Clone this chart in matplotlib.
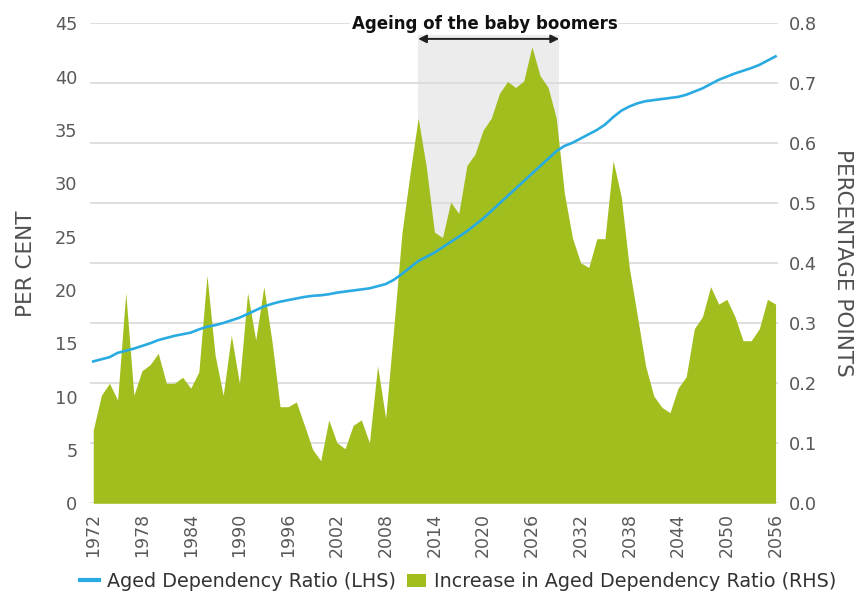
import matplotlib
matplotlib.use("Agg")
import matplotlib.pyplot as plt
from matplotlib.lines import Line2D
from matplotlib.patches import Patch
import numpy as np

years = list(range(1972, 2057))

aged_dependency_ratio = [
    13.3, 13.5, 13.7, 14.1, 14.3, 14.5, 14.75, 15.0, 15.3, 15.5,
    15.7, 15.85, 16.0, 16.3, 16.55, 16.7, 16.9, 17.15, 17.4, 17.75,
    18.1, 18.45, 18.7, 18.9, 19.05, 19.2, 19.35, 19.45, 19.5, 19.6,
    19.75, 19.85, 19.95, 20.05, 20.15, 20.35, 20.55, 20.95, 21.5, 22.1,
    22.7, 23.1, 23.5, 24.0, 24.5, 25.0, 25.5, 26.1, 26.7, 27.4,
    28.1, 28.8, 29.5, 30.2, 30.9, 31.6, 32.3, 33.0, 33.5, 33.8,
    34.2, 34.6, 35.0, 35.5, 36.2, 36.8, 37.2, 37.5, 37.7, 37.8,
    37.9, 38.0, 38.1, 38.3, 38.6, 38.9, 39.3, 39.7, 40.0, 40.3,
    40.55, 40.8, 41.1, 41.5, 41.9,
]

increase_in_ratio = [
    0.122, 0.180, 0.200, 0.172, 0.351, 0.180, 0.221, 0.231, 0.250, 0.200,
    0.200, 0.210, 0.192, 0.219, 0.380, 0.247, 0.180, 0.280, 0.200, 0.351,
    0.272, 0.361, 0.270, 0.161, 0.161, 0.169, 0.130, 0.090, 0.071, 0.139,
    0.101, 0.091, 0.130, 0.139, 0.101, 0.229, 0.142, 0.293, 0.450, 0.550,
    0.642, 0.561, 0.452, 0.443, 0.502, 0.483, 0.563, 0.582, 0.622, 0.642,
    0.683, 0.703, 0.693, 0.704, 0.761, 0.713, 0.693, 0.642, 0.517, 0.442,
    0.401, 0.393, 0.441, 0.441, 0.571, 0.511, 0.392, 0.311, 0.229, 0.179,
    0.160, 0.151, 0.192, 0.211, 0.291, 0.311, 0.361, 0.332, 0.340, 0.311,
    0.271, 0.271, 0.291, 0.340, 0.332,
]

x_tick_years = list(range(1972, 2057, 6))
left_ticks = list(range(0, 50, 5))
right_ticks = [round(0.1 * i, 1) for i in range(9)]
shade_start, shade_end = 2012, 2029.35
annotation_text = "Ageing of the baby boomers"

GREEN = "#A1BE1F"
BLUE = "#29ABE2"
GRAY_TXT = "#595959"

fig = plt.figure(figsize=(8.56, 6.01), dpi=100)
ax = fig.add_axes([90 / 856, (601 - 503.3) / 601, 688 / 856, 480 / 601])
ax2 = ax.twinx()

# area on primary axes (right scale)
ax.axvspan(shade_start, shade_end, ymin=0, ymax=1, color="#ECECEC", zorder=0.2, lw=0)
ax.fill_between(years, increase_in_ratio, 0, color=GREEN, lw=0, zorder=2)
ax.set_ylim(0, 0.8)
ax.set_xlim(1971.6, 2056.3)
ax.set_yticks(right_ticks)
ax.set_yticklabels([f"{t:.1f}" for t in right_ticks])
ax.yaxis.tick_right()
ax.yaxis.set_label_position("right")
ax.set_axisbelow(True)
ax.grid(axis="y", color="#DCDCDC", lw=1.3)
ax.grid(axis="x", visible=False)
ax.set_xticks(x_tick_years)
ax.set_xticklabels([str(y) for y in x_tick_years], rotation=90)
ax.tick_params(axis="x", length=0, pad=7, labelsize=12.5, labelcolor=GRAY_TXT)
ax.tick_params(axis="y", length=0, pad=8, labelsize=12.8, labelcolor=GRAY_TXT)
for s in ax.spines.values():
    s.set_visible(False)
ax.set_ylabel("PERCENTAGE POINTS", rotation=270, fontsize=15.5, color="#505050",
              labelpad=26)

# line on twin axes (left scale)
ax2.plot(years, aged_dependency_ratio, color=BLUE, lw=1.9, zorder=3)
ax2.set_ylim(0, 45)
ax2.set_yticks(left_ticks)
ax2.yaxis.tick_left()
ax2.yaxis.set_label_position("left")
ax2.tick_params(axis="y", length=0, pad=9, labelsize=12.8, labelcolor=GRAY_TXT)
for s in ax2.spines.values():
    s.set_visible(False)
ax2.set_ylabel("PER CENT", fontsize=15.5, color="#505050", labelpad=13.5)

# annotation
ax2.text((shade_start + shade_end) / 2 - 0.5, 0.988, annotation_text,
         transform=ax2.get_xaxis_transform(), ha="center", va="baseline",
         fontsize=12, fontweight="bold", color="#111111", zorder=5,
         bbox=dict(facecolor="white", edgecolor="none", pad=1.5))
ax2.annotate("", xy=(shade_start, 0.9675), xytext=(shade_end, 0.9675),
             xycoords=ax2.get_xaxis_transform(), textcoords=ax2.get_xaxis_transform(),
             arrowprops=dict(arrowstyle="<|-|>", color="#222222", lw=1.4,
                             mutation_scale=12, shrinkA=0, shrinkB=0),
             zorder=5)

handles = [Line2D([0], [0], color=BLUE, lw=3),
           Patch(facecolor=GREEN, edgecolor="none")]
labels = ["Aged Dependency Ratio (LHS)", "Increase in Aged Dependency Ratio (RHS)"]
fig.legend(handles, labels, loc="lower center", bbox_to_anchor=(0.535, -0.012),
           ncol=2, frameon=False, fontsize=13.8, labelcolor="#333333",
           handlelength=1.0, handletextpad=0.4, columnspacing=0.6)

fig.savefig("out.png", dpi=100)
